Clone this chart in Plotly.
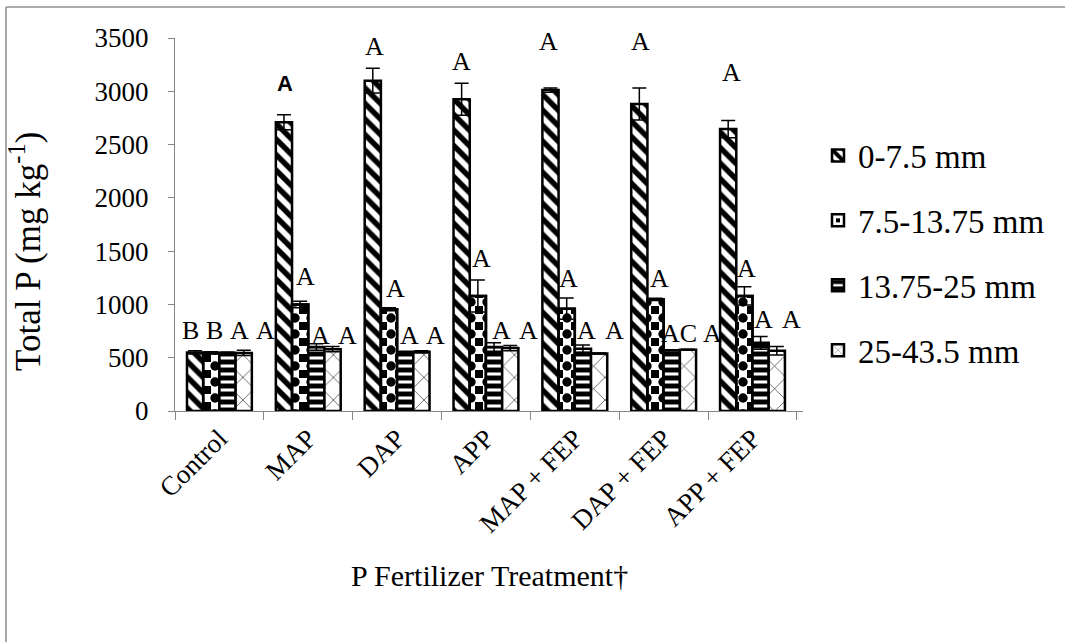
import plotly.graph_objects as go

categories = ["Control", "MAP", "DAP", "APP", "MAP + FEP", "DAP + FEP", "APP + FEP"]
series_names = ["0-7.5 mm", "7.5-13.75 mm", "13.75-25 mm", "25-43.5 mm"]

s1 = [550, 2710, 3100, 2925, 3012, 2880, 2645]
s2 = [545, 1000, 955, 1080, 960, 1048, 1080]
s3 = [545, 600, 550, 600, 585, 570, 640]
s4 = [545, 580, 555, 590, 540, 575, 565]

e1 = [15, 70, 115, 150, 20, 150, 80]
e2 = [10, 30, 15, 150, 100, 10, 85]
e3 = [8, 30, 10, 40, 35, 5, 60]
e4 = [25, 25, 10, 25, 5, 5, 40]

# significance letters
letters_cat = ["Control", "Control", "Control", "Control",
               "MAP", "MAP", "MAP", "MAP",
               "DAP", "DAP", "DAP", "DAP",
               "APP", "APP", "APP", "APP",
               "MAP + FEP", "MAP + FEP", "MAP + FEP", "MAP + FEP",
               "DAP + FEP", "DAP + FEP", "DAP + FEP", "DAP + FEP",
               "APP + FEP", "APP + FEP", "APP + FEP", "APP + FEP"]
letters_txt = ["B", "B", "A", "A",
               "A", "A", "A", "A",
               "A", "A", "A", "A",
               "A", "A", "A", "A",
               "A", "A", "A", "A",
               "A", "A", "AC", "A",
               "A", "A", "A", "A"]
letters_y = [760, 760, 760, 760,
             3075, 1260, 713, 713,
             3418, 1151, 704, 704,
             3278, 1433, 760, 760,
             3470, 1245, 760, 760,
             3470, 1245, 729, 729,
             3172, 1339, 854, 854]
letters_dx = [-29, -5, 20, 46,
              -23, -3, 12, 39,
              -23, -2, 12, 38,
              -24, -4, 16, 43,
              -26, -6, 12, 40,
              -23, -4, 15, 49,
              -21, -6, 11, 39]

SERIF = "Liberation Serif, Times New Roman, serif"
TICK_FS = 27
XTITLE_FS = 30
YTITLE_FS = 35
LEG_FS = 33
LETTER_FS = 26

patterns = [
    dict(shape="\\", size=11, solidity=0.5, fgcolor="black", bgcolor="white", fgopacity=1),
    dict(shape="+", size=16, solidity=0.75, fgcolor="white", bgcolor="black", fgopacity=1),
    dict(shape="-", size=8, solidity=0.62, fgcolor="black", bgcolor="white", fgopacity=1),
    dict(shape="x", size=16, solidity=0.1, fgcolor="#505050", bgcolor="white", fgopacity=1),
]

fig = go.Figure()
all_vals = [s1, s2, s3, s4]
all_errs = [e1, e2, e3, e4]
for i, (name, vals, errs, pat) in enumerate(zip(series_names, all_vals, all_errs, patterns)):
    fig.add_trace(go.Bar(
        x=categories, y=vals, name=name, legendgroup=name, offsetgroup=str(i),
        marker=dict(color="white", pattern=pat, line=dict(color="black", width=2.5)),
        error_y=dict(type="data", array=errs, visible=(i != 1), color="black", thickness=1.5, width=7),
    ))
    if i == 1:
        # second layer completing the checkerboard fill of the 7.5-13.75 mm bars
        fig.add_trace(go.Bar(
            x=categories, y=vals, name=name, legendgroup=name, offsetgroup=str(i),
            showlegend=False, hoverinfo="skip",
            marker=dict(color="rgba(255,255,255,0)",
                        pattern=dict(shape=".", size=16, solidity=0.27, fgcolor="#000000",
                                     fgopacity=1, bgcolor="rgba(255,255,255,0)"),
                        line=dict(color="black", width=2.5)),
            error_y=dict(type="data", array=errs, visible=True, color="black", thickness=1.5, width=7),
        ))

for c, t, yv, dx in zip(letters_cat, letters_txt, letters_y, letters_dx):
    bold = (c == "MAP" and yv > 2000)
    fig.add_annotation(
        x=c, y=yv, xref="x", yref="y", text=("<b>%s</b>" % t) if bold else t,
        xshift=dx, showarrow=False,
        font=dict(family="Liberation Sans, Arial, sans-serif" if bold else SERIF,
                  size=22 if bold else LETTER_FS, color="black"),
    )

L, R, T, B = 175, 262, 38, 231
W, H = 1065, 642
pw, ph = W - L - R, H - T - B

def px_x(p):
    return (p - L) / pw

def px_y(p):
    return (T + ph - p) / ph

# axis titles placed like the original
fig.add_annotation(xref="paper", yref="paper", x=px_x(26), y=px_y(252),
                   text="Total P (mg kg<sup>-1</sup>)", textangle=-90, showarrow=False,
                   xanchor="center", yanchor="middle",
                   font=dict(family=SERIF, size=YTITLE_FS, color="black"))
fig.add_annotation(xref="paper", yref="paper", x=0.5, y=px_y(575),
                   text="P Fertilizer Treatment†", showarrow=False,
                   xanchor="center", yanchor="middle",
                   font=dict(family=SERIF, size=XTITLE_FS, color="black"))

# chart-area border (left and top edges visible in the original)
fig.add_shape(type="line", xref="paper", yref="paper",
              x0=px_x(6), x1=px_x(6), y0=px_y(H + 5), y1=px_y(7),
              line=dict(color="#a8a8a8", width=2))
fig.add_shape(type="line", xref="paper", yref="paper",
              x0=px_x(6), x1=px_x(W + 5), y0=px_y(7), y1=px_y(7),
              line=dict(color="#909090", width=1.5))

fig.update_layout(
    width=W, height=H,
    margin=dict(l=L, r=R, t=T, b=B),
    paper_bgcolor="white", plot_bgcolor="white",
    barmode="group", bargap=0.27, bargroupgap=0,
    font=dict(family=SERIF, size=TICK_FS, color="black"),
    legend=dict(x=px_x(818), xanchor="left", y=px_y(253), yanchor="middle",
                font=dict(family=SERIF, size=LEG_FS), tracegroupgap=19,
                bgcolor="rgba(0,0,0,0)"),
    xaxis=dict(
        showline=True, linecolor="#868686", linewidth=1,
        ticks="outside", tickson="boundaries", ticklen=8, tickcolor="#868686",
        tickangle=-45, tickfont=dict(family=SERIF, size=TICK_FS),
        showgrid=False,
    ),
    yaxis=dict(
        range=[0, 3500], dtick=500, showline=True, linecolor="#868686", linewidth=1,
        ticks="outside", ticklen=6, tickcolor="#868686", ticklabelstandoff=14,
        tickfont=dict(family=SERIF, size=TICK_FS), showgrid=False, zeroline=False,
    ),
)

fig.write_html("out.html")
